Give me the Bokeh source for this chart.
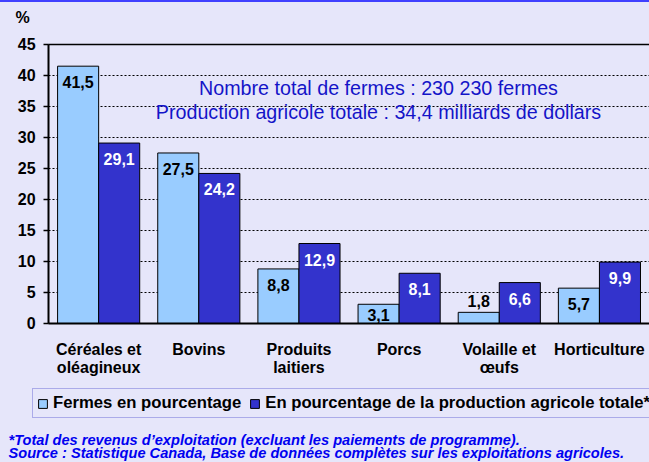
from bokeh.plotting import figure
from bokeh.models import (ColumnDataSource, Range1d, LabelSet, Label, Legend, LegendItem,
                          LinearAxis, FixedTicker)
from bokeh.transform import dodge
from bokeh.core.properties import value
from bokeh.embed import file_html
from bokeh.resources import INLINE

# ---- data ----
categories = ["Céréales et oléagineux", "Bovins", "Produits laitiers",
              "Porcs", "Volaille et œufs", "Horticulture"]
label_line1 = ["Céréales et", "Bovins", "Produits", "Porcs", "Volaille et", "Horticulture"]
label_line2 = ["oléagineux", "", "laitiers", "", "œufs", ""]
farms_pct = [41.5, 27.5, 8.8, 3.1, 1.8, 5.7]
production_pct = [29.1, 24.2, 12.9, 8.1, 6.6, 9.9]
series_names = ["Fermes en pourcentage",
                "En pourcentage de la production agricole totale*"]
y_ticks = [0, 5, 10, 15, 20, 25, 30, 35, 40, 45]
y_unit = "%"
info_lines = ["Nombre total de fermes : 230 230 fermes",
              "Production agricole totale : 34,4 milliards de dollars"]
footnotes = ["*Total des revenus d’exploitation (excluant les paiements de programme).",
             "Source : Statistique Canada, Base de données complètes sur les exploitations agricoles."]

BG = "#E6E6FA"
LIGHT = "#99CCFF"
DARK = "#3333CC"
FONT = "Liberation Sans"
Y_MAX = y_ticks[-1]
N = len(categories)


def fmt(v):
    return f"{v:.1f}".replace(".", ",")


# category slots on a numeric scale: slot i spans [i, i+1]
xpos = [i + 0.5 for i in range(N)]
src = ColumnDataSource(dict(x=xpos, farms=farms_pct, prod=production_pct))

p = figure(x_range=Range1d(-0.48, N), y_range=Range1d(-22.42, 51.77),
           width=649, height=460, output_backend="svg", toolbar_location=None,
           min_border_left=0, min_border_right=0, min_border_top=0, min_border_bottom=0,
           background_fill_color=BG, border_fill_color=BG, outline_line_color=None)

r1 = p.vbar(x=dodge("x", -0.205), top="farms", width=0.41, source=src,
            fill_color=LIGHT, line_color="black", line_width=1)
r2 = p.vbar(x=dodge("x", 0.205), top="prod", width=0.41, source=src,
            fill_color=DARK, line_color="black", line_width=1)

# data labels: inside the top of the bar; inside the base for short bars; above tiny bars
lab_common = dict(text_font=value(FONT), text_font_style="bold", text_font_size="16px",
                  text_align="center")


def label_groups(vals):
    top = [(x, v) for x, v in zip(xpos, vals) if v >= 5]
    base = [(x, v) for x, v in zip(xpos, vals) if 2.5 <= v < 5]
    above = [(x, v) for x, v in zip(xpos, vals) if v < 2.5]
    return top, base, above


def add_labels(pairs, shift, color, mode):
    if not pairs:
        return
    xs = [a for a, _ in pairs]
    vs = [b for _, b in pairs]
    data = dict(x=xs, v=vs, z=[0] * len(vs), t=[fmt(b) for b in vs])
    s = ColumnDataSource(data)
    if mode == "top":
        ls = LabelSet(x=dodge("x", shift), y="v", text="t", source=s, text_baseline="middle",
                      y_offset=-16, text_color=color, **lab_common)
    elif mode == "base":
        ls = LabelSet(x=dodge("x", shift), y="z", text="t", source=s, text_baseline="bottom",
                      y_offset=2, text_color=color, **lab_common)
    else:
        ls = LabelSet(x=dodge("x", shift), y="v", text="t", source=s, text_baseline="bottom",
                      y_offset=5, text_color=color, **lab_common)
    p.add_layout(ls)


for pairs, mode in zip(label_groups(farms_pct), ["top", "base", "above"]):
    add_labels(pairs, -0.205, "black", mode)
for pairs, mode in zip(label_groups(production_pct), ["top", "base", "above"]):
    add_labels(pairs, 0.205, "white" if mode != "above" else "black", mode)

# y axis, fixed at the left edge of the category area
ya = p.yaxis[0]
ya.fixed_location = 0
ya.bounds = (0, Y_MAX)
ya.ticker = FixedTicker(ticks=y_ticks)
ya.axis_line_width = 2
ya.axis_line_color = "black"
ya.major_tick_in = 0
ya.major_tick_out = 5
ya.major_tick_line_width = 1.5
ya.minor_tick_line_color = None
ya.major_label_standoff = 8
ya.major_label_text_font = FONT
ya.major_label_text_font_style = "bold"
ya.major_label_text_font_size = "16px"
ya.major_label_text_color = "black"

# x axis at y = 0, first line of category labels
xa = p.xaxis[0]
xa.fixed_location = 0
xa.bounds = (0, N)
xa.ticker = FixedTicker(ticks=xpos)
xa.major_label_overrides = {x: t for x, t in zip(xpos, label_line1)}
xa.axis_line_width = 2
xa.axis_line_color = "black"
xa.major_tick_line_color = None
xa.major_tick_out = 0
xa.major_tick_in = 0
xa.minor_tick_line_color = None
xa.major_label_standoff = 18
xa.major_label_text_font = FONT
xa.major_label_text_font_style = "bold"
xa.major_label_text_font_size = "16px"
xa.major_label_text_color = "black"

# second line of category labels
two_line = [x for x, t in zip(xpos, label_line2) if t]
xa2 = LinearAxis(fixed_location=0, bounds=(0, N), ticker=FixedTicker(ticks=two_line),
                 major_label_overrides={x: t for x, t in zip(xpos, label_line2) if t},
                 axis_line_color=None, major_tick_line_color=None,
                 major_tick_out=0, major_tick_in=0, minor_tick_line_color=None,
                 major_label_standoff=36, major_label_text_font=FONT,
                 major_label_text_font_style="bold", major_label_text_font_size="16px",
                 major_label_text_color="black")
p.add_layout(xa2, "below")

# solid top line of the plot area at the axis maximum
top_line = LinearAxis(fixed_location=Y_MAX, bounds=(0, N), ticker=FixedTicker(ticks=[]),
                      axis_line_color="black", axis_line_width=1.5,
                      major_tick_line_color=None, minor_tick_line_color=None,
                      major_label_text_font_size="0px")
p.add_layout(top_line, "above")

p.xgrid.grid_line_color = None
p.ygrid.grid_line_color = "black"
p.ygrid.grid_line_dash = "2 2"
p.ygrid.grid_line_width = 1
p.ygrid.cross_bounds = (0, N)

# "%" unit label
p.add_layout(Label(x=22, y=445, x_units="screen", y_units="screen", text=y_unit,
                   text_font=FONT, text_font_style="bold", text_font_size="16px",
                   text_align="center", text_baseline="middle", text_color="black"))

# info text
for i, t in enumerate(info_lines):
    p.add_layout(Label(x=378, y=375 - 24 * i, x_units="screen", y_units="screen", text=t,
                       text_font=FONT, text_font_size="19.7px", text_color="#1414C8",
                       text_align="center", text_baseline="middle"))

# footnotes
for i, t in enumerate(footnotes):
    p.add_layout(Label(x=8, y=22.5 - 13 * i, x_units="screen", y_units="screen", text=t,
                       text_font=FONT, text_font_style="bold italic", text_font_size="14.6px",
                       text_color="#0000F0", text_align="left", text_baseline="middle"))

# legend
legend = Legend(items=[LegendItem(label=series_names[0], renderers=[r1]),
                       LegendItem(label=series_names[1], renderers=[r2])],
                orientation="horizontal", location=(32, 44),
                label_text_font=FONT, label_text_font_style="bold",
                label_text_font_size="16.7px", label_text_color="black",
                glyph_width=11, glyph_height=11, label_standoff=5, spacing=8,
                padding=4, label_height=16, margin=0,
                border_line_color="#7070D8", border_line_width=1.5,
                background_fill_color=BG, background_fill_alpha=1)
p.add_layout(legend)

html = file_html(p, INLINE)
html = html.replace("</head>",
                    "<style>html{background:%s;border-top:2px solid #4040FF;}"
                    "body{background:%s;}</style></head>" % (BG, BG), 1)
open("out.html", "w").write(html)
